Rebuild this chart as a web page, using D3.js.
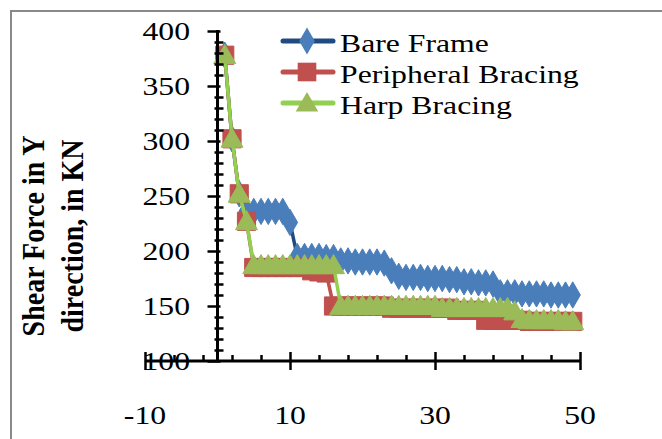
<!DOCTYPE html>
<html>
<head>
<meta charset="utf-8">
<script src="https://cdn.jsdelivr.net/npm/d3@7"></script>
<style>
  body { margin: 0; background: #fff; }
  svg { display: block; }
</style>
</head>
<body>
<div id="chart"></div>
<script>
// Storey numbers (x) and shear force values
var storeys = d3.range(1, 50);

var bareFrame = [378, 302, 252, 236, 236, 236, 236, 236, 236, 226,
                 195, 195, 195, 195, 194, 194, 191, 191, 190, 190,
                 190, 190, 189, 182, 177, 176, 176, 176, 175, 175,
                 175, 174, 174, 172, 172, 171, 171, 170, 162, 162,
                 162, 161, 161, 161, 161, 160, 160, 160, 160];

var peripheral = [378, 302, 252, 227, 185, 185, 185, 185, 185, 185,
                  185, 185, 182, 181, 180, 150, 150, 150, 150, 150,
                  150, 150, 150, 148, 148, 148, 148, 148, 148, 148,
                  148, 148, 146, 146, 146, 146, 137, 137, 137, 137,
                  137, 137, 136, 136, 136, 136, 136, 136, 136];

var harp = [378, 302, 252, 227, 187, 187, 187, 187, 187, 187,
            187, 187, 187, 187, 187, 187, 150, 150, 150, 150,
            150, 150, 150, 150, 150, 150, 150, 150, 150, 150,
            148, 148, 148, 148, 148, 148, 148, 148, 148, 148,
            145, 138, 137, 137, 137, 137, 137, 136, 136];

var seriesNames = ["Bare Frame", "Peripheral Bracing", "Harp Bracing"];
var xMajor = [-10, 10, 30, 50];
var xMinor = [-6, -2, 2, 6, 14, 18, 22, 26, 34, 38, 42, 46];
var yMajor = [100, 150, 200, 250, 300, 350, 400];
var yTitle = ["Shear Force in Y", "direction, in KN"];

var w = 662, h = 439;
var stretch = 1.22;   // the picture's text is a bit wide
var serif = "'Liberation Serif', 'Times New Roman', serif";

var svg = d3.select("#chart").append("svg")
    .attr("width", w)
    .attr("height", h);

// chart border (runs off the right and bottom of the picture)
svg.append("rect")
    .attr("x", 11).attr("y", 11)
    .attr("width", 700).attr("height", 500)
    .attr("fill", "#fff")
    .attr("stroke", "#898989")
    .attr("stroke-width", 2);

var x = d3.scaleLinear().domain([-10, 50]).range([145, 580]);
var y = d3.scaleLinear().domain([100, 400]).range([361, 31]);

var series = [
  { name: seriesNames[0], values: bareFrame, line: "#1F4A82", fill: "#4A7EBB", shape: d3.symbolDiamond, size: 200 },
  { name: seriesNames[1], values: peripheral, line: "#C0504D", fill: "#C0504D", shape: d3.symbolSquare, size: 330 },
  { name: seriesNames[2], values: harp, line: "#92D050", fill: "#9BBB59", shape: d3.symbolTriangle, size: 210 }
];

var line = d3.line()
    .x(function (d, i) { return x(storeys[i]); })
    .y(function (d) { return y(d); });

series.forEach(function (s) {
  var g = svg.append("g");
  g.append("path")
      .attr("d", line(s.values))
      .attr("fill", "none")
      .attr("stroke", s.line)
      .attr("stroke-width", 3.5)
      .attr("stroke-linejoin", "round");
  g.selectAll("path.m")
      .data(s.values)
      .enter()
      .append("path")
      .attr("class", "m")
      .attr("d", d3.symbol().type(s.shape).size(s.size))
      .attr("transform", function (d, i) {
        var yy = y(d) + (s.shape === d3.symbolTriangle ? 2 : 0);
        return "translate(" + x(storeys[i]) + "," + yy + ")";
      })
      .attr("fill", s.fill)
      .attr("stroke", s.fill)
      .attr("stroke-width", 1);
});

// Y axis at x = 0
var x0 = x(0);
var yAxisMinor = d3.axisLeft(y).tickValues(d3.range(110, 400, 10).filter(function (v) { return v % 50 !== 0; }))
    .tickSize(-6).tickFormat("");
var yAxisMajor = d3.axisLeft(y).tickValues(yMajor).tickSize(10).tickFormat("");

var gy = svg.append("g").attr("transform", "translate(" + x0 + ",0)");
gy.append("g").call(yAxisMinor);
gy.append("g").call(yAxisMajor);
gy.selectAll(".domain").remove();
gy.selectAll("line").attr("stroke", "#000").attr("stroke-width", 2.5);
gy.selectAll(".tick line").each(function () {
  var l = d3.select(this);
  if (+l.attr("x2") > 0) l.attr("x1", -3); else l.attr("x1", 3);
});
gy.append("line")
    .attr("x1", 0).attr("x2", 0)
    .attr("y1", y(400) - 1).attr("y2", y(100))
    .attr("stroke", "#000").attr("stroke-width", 3);

// X axis at y = 100
var xAxisMinor = d3.axisBottom(x).tickValues(xMinor).tickSize(-6).tickFormat("");
var xAxisMajor = d3.axisBottom(x).tickValues(xMajor).tickSize(9).tickFormat("");
var gx = svg.append("g").attr("transform", "translate(0," + y(100) + ")");
gx.append("g").call(xAxisMinor);
gx.append("g").call(xAxisMajor);
gx.selectAll(".domain").remove();
gx.selectAll("line").attr("stroke", "#000").attr("stroke-width", 2.5);
gx.selectAll(".tick line").each(function () {
  var l = d3.select(this);
  if (+l.attr("y2") > 0) l.attr("y1", -9);
});
gx.append("line")
    .attr("x1", x(-10)).attr("x2", x(50))
    .attr("y1", 0).attr("y2", 0)
    .attr("stroke", "#000").attr("stroke-width", 3);

// tick labels
svg.selectAll("text.ylab")
    .data(yMajor)
    .enter()
    .append("text")
    .attr("class", "ylab")
    .attr("transform", function (d) { return "translate(190," + (y(d) + 8.8) + ") scale(" + stretch + ",1)"; })
    .attr("text-anchor", "end")
    .attr("font-family", serif)
    .attr("font-size", 26)
    .attr("fill", "#000")
    .text(function (d) { return d; });

svg.selectAll("text.xlab")
    .data(xMajor)
    .enter()
    .append("text")
    .attr("class", "xlab")
    .attr("transform", function (d) { return "translate(" + x(d) + ",424) scale(" + stretch + ",1)"; })
    .attr("text-anchor", "middle")
    .attr("font-family", serif)
    .attr("font-size", 26)
    .attr("fill", "#000")
    .text(function (d) { return d; });

// axis title
svg.selectAll("text.ytitle")
    .data(yTitle)
    .enter()
    .append("text")
    .attr("class", "ytitle")
    .attr("transform", function (d, i) { return "translate(" + (44 + i * 39) + ",236) rotate(-90) scale(1,1.1)"; })
    .attr("text-anchor", "middle")
    .attr("font-family", serif)
    .attr("font-weight", "bold")
    .attr("font-size", 28)
    .attr("fill", "#000")
    .text(function (d) { return d; });

// legend
var legend = svg.append("g");
series.forEach(function (s, i) {
  var ly = 41 + i * 31;
  legend.append("line")
      .attr("x1", 283).attr("x2", 333)
      .attr("y1", ly).attr("y2", ly)
      .attr("stroke", s.line)
      .attr("stroke-width", 5)
      .attr("stroke-linecap", "round");
  legend.append("path")
      .attr("d", d3.symbol().type(s.shape).size(s.size * 1.05))
      .attr("transform", "translate(307," + (ly + (s.shape === d3.symbolTriangle ? 2 : 0)) + ")")
      .attr("fill", s.fill);
  legend.append("text")
      .attr("transform", "translate(340," + (ly + 11) + ") scale(" + stretch + ",1)")
      .attr("font-family", serif)
      .attr("font-size", 26)
      .attr("fill", "#000")
      .text(s.name);
});
</script>
</body>
</html>
